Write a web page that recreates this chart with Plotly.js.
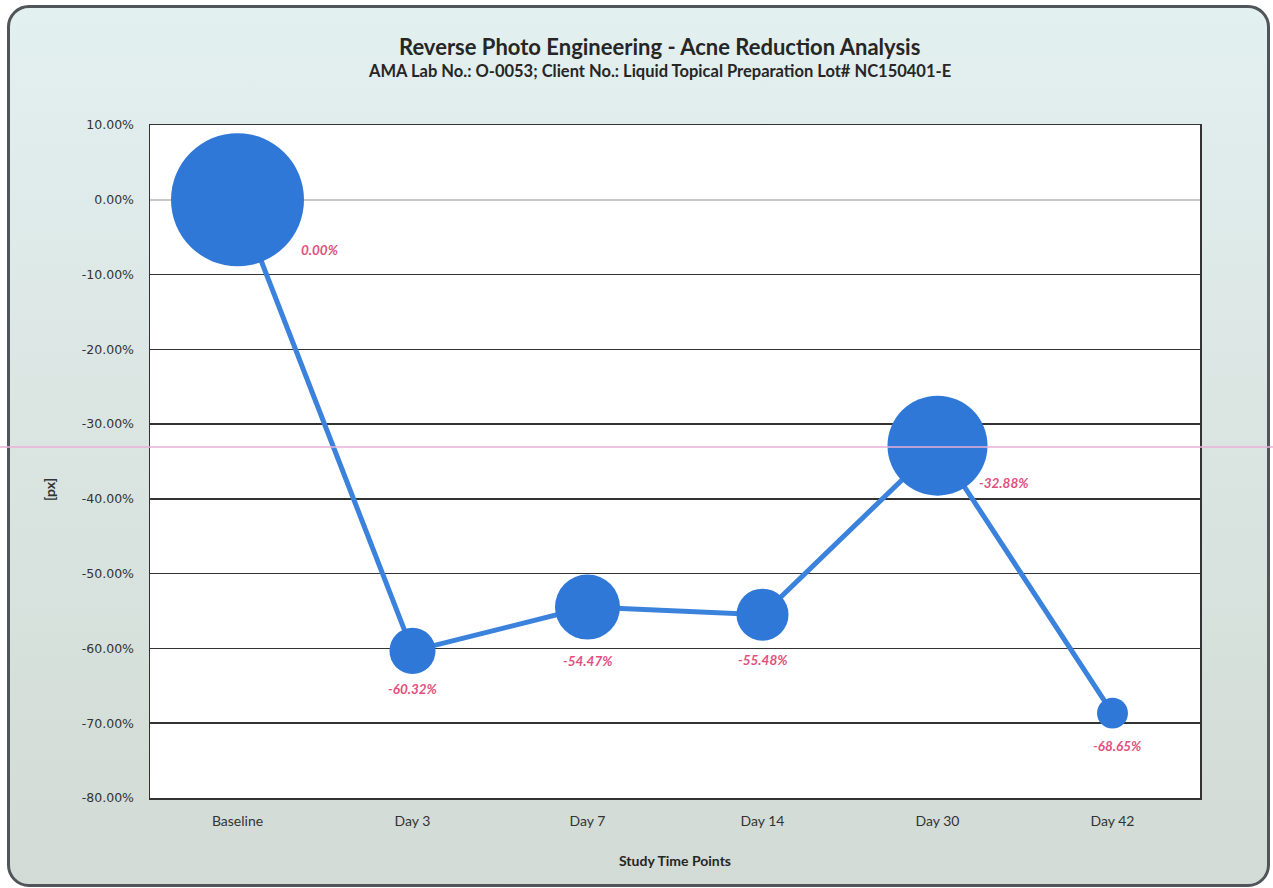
<!DOCTYPE html>
<html>
<head>
<meta charset="utf-8">
<script src="https://cdn.plot.ly/plotly-3.0.1.min.js"></script>
<style>
  html, body { margin: 0; padding: 0; width: 1273px; height: 888px; overflow: hidden; background: #ffffff; }
  #frame {
    position: absolute; left: 7px; top: 5px; width: 1257px; height: 876px;
    border: 3px solid #50555a; border-radius: 22px;
    background: linear-gradient(180deg, #e3f0f0 0%, #dbe6e3 45%, #d2dbd5 100%);
  }
  #chart { position: absolute; left: 0; top: 0; width: 1273px; height: 888px; }
</style>
</head>
<body>
<div id="frame"></div>
<div id="chart"></div>
<script>
// ---- data ----
const timePoints = ["Baseline", "Day 3", "Day 7", "Day 14", "Day 30", "Day 42"];
const changeFromBaseline = [0.0, -0.6032, -0.5447, -0.5548, -0.3288, -0.6865];
const bubbleSize = [100, 12.0, 23.9, 15.3, 56.5, 5.4];
const yTickVals = [0.1, 0.0, -0.1, -0.2, -0.3, -0.4, -0.5, -0.6, -0.7, -0.8];
const yTickText = ["10.00%", "0.00%", "-10.00%", "-20.00%", "-30.00%", "-40.00%", "-50.00%", "-60.00%", "-70.00%", "-80.00%"];

const titleText = "Reverse Photo Engineering - Acne Reduction Analysis";
const subtitleText = "AMA Lab No.: O-0053; Client No.: Liquid Topical Preparation Lot# NC150401-E";
const xTitle = "Study Time Points";
const yTitle = "[px]";

// ---- styling ----
const maxDiameter = 133;
const sizeref = 2 * Math.max(...bubbleSize) / (maxDiameter * maxDiameter);
// label offsets (px) relative to point centre
const labelShift = [
  {x: 82, y: -50}, {x: 0, y: -38}, {x: 0, y: -54},
  {x: 0, y: -45}, {x: 66, y: -37}, {x: 5, y: -33}
];
const FONT = "Lato, 'Open Sans', sans-serif";

const trace = {
  type: "scatter",
  mode: "lines+markers",
  x: timePoints,
  y: changeFromBaseline,
  line: {color: "#3b82dc", width: 5},
  marker: {
    color: "#2f78d8",
    size: bubbleSize,
    sizemode: "area",
    sizeref: sizeref,
    line: {width: 0},
    opacity: 1
  },
  hoverinfo: "x+y",
  cliponaxis: false,
  showlegend: false
};

const annotations = changeFromBaseline.map((v, i) => ({
  x: timePoints[i], y: v, xref: "x", yref: "y",
  text: (v * 100).toFixed(2) + "%",
  showarrow: false,
  xshift: labelShift[i].x, yshift: labelShift[i].y,
  font: {family: FONT, size: 13.5, color: "#e0507e", style: "italic", weight: "bold"}
}));

annotations.push({
  xref: "paper", yref: "paper", x: 0.4857, y: 1.116,
  text: "<b>" + titleText + "</b>", showarrow: false,
  xanchor: "center", yanchor: "middle",
  font: {family: FONT, size: 22, color: "#262626"}
});
annotations.push({
  xref: "paper", yref: "paper", x: 0.4857, y: 1.080,
  text: "<b>" + subtitleText + "</b>", showarrow: false,
  xanchor: "center", yanchor: "middle",
  font: {family: FONT, size: 16.5, color: "#262626"}
});
annotations.push({
  xref: "paper", yref: "paper", x: -0.095, y: 0.458,
  text: "<b>" + yTitle + "</b>", showarrow: false, textangle: -90,
  xanchor: "center", yanchor: "middle",
  font: {family: FONT, size: 14, color: "#333333"}
});

const layout = {
  width: 1273, height: 888,
  margin: {l: 150, r: 73, t: 125, b: 90},
  paper_bgcolor: "rgba(0,0,0,0)",
  plot_bgcolor: "#ffffff",
  xaxis: {
    type: "category",
    range: [-0.5, 5.5],
    showgrid: false,
    showline: true, mirror: true, linecolor: "#333333", linewidth: 1.5,
    ticks: "outside", ticklen: 10, tickcolor: "rgba(0,0,0,0)",
    tickfont: {family: FONT, size: 14, color: "#333333"},
    title: {text: "<b>" + xTitle + "</b>", standoff: 28,
            font: {family: FONT, size: 14, color: "#262626"}},
    fixedrange: true
  },
  yaxis: {
    range: [-0.8, 0.1],
    tickvals: yTickVals,
    ticktext: yTickText,
    showgrid: true, gridcolor: "#333333", gridwidth: 1.6,
    zeroline: true, zerolinecolor: "#c9c9c9", zerolinewidth: 1.5,
    showline: true, mirror: true, linecolor: "#333333", linewidth: 1.5,
    ticks: "outside", ticklen: 12, tickcolor: "rgba(0,0,0,0)",
    tickfont: {family: "'DejaVu Sans', sans-serif", size: 12.5, color: "#333333"},
    fixedrange: true
  },
  shapes: [{
    type: "line", xref: "paper", yref: "paper",
    x0: -0.143, x1: 1.07, y0: (798 - 447) / 673, y1: (798 - 447) / 673,
    line: {color: "#eab0d8", width: 1.3}
  }],
  annotations: annotations
};

Plotly.newPlot("chart", [trace], layout, {displayModeBar: false, staticPlot: true});
</script>
</body>
</html>
